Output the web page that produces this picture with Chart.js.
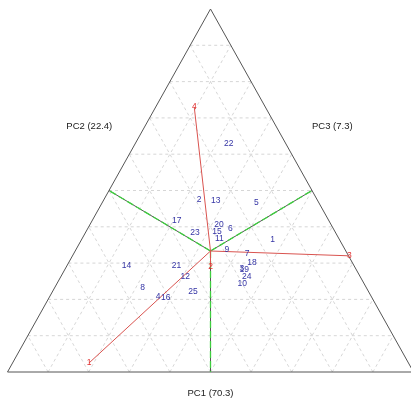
<!DOCTYPE html>
<html>
<head>
<meta charset="utf-8">
<script src="https://cdn.jsdelivr.net/npm/chart.js@4"></script>
<style>
  html, body { margin: 0; padding: 0; background: #fff; }
  #wrap { width: 411px; height: 404px; position: relative; }
</style>
</head>
<body>
<div id="wrap"><canvas id="tern"></canvas></div>
<script>
// Observation scores, plotted in triangle coordinates (base 0..1, height 0..1)
const obsLabels = ["1","2","3","4","5","6","7","8","9","10","11","12","13",
                   "14","15","16","17","18","19","20","21","22","23","24","25"];
const obsX = [0.653,0.472,0.577,0.371,0.613,0.549,0.590,0.333,0.540,0.578,0.522,0.438,0.513,
              0.293,0.516,0.390,0.417,0.602,0.583,0.521,0.416,0.545,0.462,0.589,0.457];
const obsY = [0.364,0.476,0.285,0.207,0.467,0.396,0.325,0.231,0.338,0.242,0.366,0.262,0.473,
              0.292,0.386,0.205,0.416,0.300,0.281,0.405,0.292,0.630,0.384,0.264,0.220];

// Variable loadings (arrow tips) and the centroid they start from
const varLabels = ["1","2","3","4"];
const varX = [0.201,0.500,0.842,0.460];
const varY = [0.025,0.290,0.320,0.730];
const centre = { x: 0.5, y: 1 / 3 };

// Axis titles
const axisTitles = ["PC1 (70.3)", "PC2 (22.4)", "PC3 (7.3)"];

// Triangle vertices
const corners = [{ x: 0, y: 0 }, { x: 1, y: 0 }, { x: 0.5, y: 1 }, { x: 0, y: 0 }];
const sideMids = [{ x: 0.25, y: 0.5 }, { x: 0.75, y: 0.5 }, { x: 0.5, y: 0 }];

// Dashed grid every 10%, parallel to the three sides
function gridPoints() {
  const pts = [];
  for (let k = 1; k < 10; k++) {
    const t = k / 10;
    pts.push({ x: t / 2, y: t }, { x: 1 - t / 2, y: t }, { x: NaN, y: NaN });
    pts.push({ x: t, y: 0 }, { x: t + (1 - t) / 2, y: 1 - t }, { x: NaN, y: NaN });
    pts.push({ x: t, y: 0 }, { x: t / 2, y: t }, { x: NaN, y: NaN });
  }
  return pts;
}

// Segments from the centroid to a list of end points
function spokes(xs, ys) {
  const pts = [];
  xs.forEach((x, i) => {
    pts.push({ x: centre.x, y: centre.y }, { x: x, y: ys[i] }, { x: NaN, y: NaN });
  });
  return pts;
}

// order: higher numbers are drawn first (underneath)
function lineSet(data, color, width, order, dash) {
  return {
    type: "line",
    data: data,
    borderColor: color,
    borderWidth: width,
    borderDash: dash || [],
    order: order,
    pointRadius: 0,
    fill: false,
    spanGaps: false,
    clip: false,
    tension: 0
  };
}

const midX = sideMids.map(p => p.x), midY = sideMids.map(p => p.y);

// Text labels for observations, loadings and axis titles
const labelPlugin = {
  id: "ternLabels",
  afterDatasetsDraw(chart) {
    const ctx = chart.ctx;
    const sx = chart.scales.x, sy = chart.scales.y;
    ctx.save();
    ctx.textAlign = "center";
    ctx.textBaseline = "middle";

    ctx.font = "8.5px 'Liberation Sans', Arial, sans-serif";
    ctx.fillStyle = "#3535a5";
    obsLabels.forEach((lab, i) => {
      ctx.fillText(lab, sx.getPixelForValue(obsX[i]), sy.getPixelForValue(obsY[i]));
    });

    ctx.fillStyle = "#e03030";
    varLabels.forEach((lab, i) => {
      ctx.fillText(lab, sx.getPixelForValue(varX[i]), sy.getPixelForValue(varY[i]));
    });

    ctx.font = "9.5px 'Liberation Sans', Arial, sans-serif";
    ctx.fillStyle = "#222";
    const titlePos = [[0.5, -0.058], [0.2015, 0.676], [0.8, 0.676]];
    axisTitles.forEach((t, i) => {
      ctx.fillText(t, sx.getPixelForValue(titlePos[i][0]), sy.getPixelForValue(titlePos[i][1]));
    });
    ctx.restore();
  }
};

new Chart(document.getElementById("tern"), {
  type: "scatter",
  data: {
    datasets: [
      lineSet(gridPoints(), "#cbcbcb", 0.8, 5, [3, 3]),
      lineSet(corners, "#555", 1, 4),
      lineSet(spokes(midX, midY), "#555", 1, 3),
      lineSet(spokes(midX, midY), "#3fcf3f", 1.3, 2, [7, 3]),
      lineSet(spokes(varX, varY), "#d9534f", 1, 1)
    ]
  },
  options: {
    responsive: true,
    maintainAspectRatio: false,
    animation: false,
    layout: { padding: { left: 7.5, right: 0, top: 9, bottom: 32 } },
    scales: {
      x: { type: "linear", min: 0, max: 403.5 / 406, display: false },
      y: { type: "linear", min: 0, max: 1, display: false }
    },
    plugins: {
      legend: { display: false },
      tooltip: { enabled: false }
    }
  },
  plugins: [labelPlugin]
});
</script>
</body>
</html>
